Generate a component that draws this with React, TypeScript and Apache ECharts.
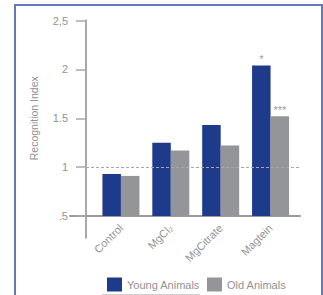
import React, { useEffect, useRef } from "react";
import * as echarts from "echarts";

const categories = ["Control", "MgCl₂", "MgCitrate", "Magtein"];
const youngValues = [0.93, 1.25, 1.43, 2.04];
const oldValues = [0.91, 1.17, 1.22, 1.52];
const youngMarks = ["", "", "", "*"];
const oldMarks = ["", "", "", "***"];
const yTickLabels = [".5", "1", "1.5", "2", "2,5"];
const seriesNames = ["Young Animals", "Old Animals"];

const FONT = "Liberation Sans";
const TXT = "#929292";
const AXIS = "#a8a8a8";

export default function App() {
  const ref = useRef<HTMLDivElement>(null);
  useEffect(() => {
    if (!ref.current) return;
    const chart = echarts.init(ref.current, undefined, { renderer: "svg" });
    const top = 20.5;
    const option: any = {
      animation: false,
      textStyle: { fontFamily: FONT },
      graphic: [
        {
          type: "rect",
          shape: { x: 15, y: 5, width: 307, height: 320 },
          style: { fill: "none", stroke: "#6478bb", lineWidth: 2 },
          silent: true,
        },
        {
          type: "line",
          shape: { x1: 102, y1: 294.5, x2: 200, y2: 294.5 },
          style: { stroke: "#cfcfcf", lineWidth: 1 },
          silent: true,
        },
      ],
      legend: {
        data: seriesNames,
        left: 102,
        top: 272.5,
        itemWidth: 15,
        itemHeight: 14,
        itemGap: 7,
        icon: "rect",
        textStyle: { fontSize: 11, color: TXT, fontFamily: FONT },
      },
      grid: [
        { left: 96, right: 27.5, top, bottom: 79 },
        { left: 86, right: 23, top, bottom: 57.3 },
        { left: 70, right: 23, top, bottom: 79 },
        { left: 86, right: 23, top, bottom: 79 },
      ],
      xAxis: [
        {
          gridIndex: 0,
          type: "category",
          data: categories,
          axisLine: { show: false },
          axisTick: { show: false },
          axisLabel: {
            rotate: 45,
            margin: 10,
            fontSize: 11,
            color: TXT,
            fontFamily: FONT,
          },
        },
        { gridIndex: 1, type: "value", show: false },
        {
          gridIndex: 2,
          type: "value",
          min: 0,
          max: 1,
          axisLine: { show: true, lineStyle: { color: "#9a9a9a", width: 2 } },
          axisTick: { show: false },
          axisLabel: { show: false },
          splitLine: { show: false },
        },
        { gridIndex: 3, type: "value", min: 0, max: 1, show: false },
      ],
      yAxis: [
        {
          gridIndex: 0,
          type: "value",
          min: 0.5,
          max: 2.5,
          interval: 0.5,
          offset: 10,
          name: "Recognition Index",
          nameLocation: "middle",
          nameGap: 47,
          nameTextStyle: { fontSize: 10.5, color: TXT, fontFamily: FONT },
          axisLine: { show: true, lineStyle: { color: AXIS, width: 2 } },
          axisTick: { show: true, length: 10, inside: false, lineStyle: { color: AXIS, width: 1.5 } },
          axisLabel: {
            margin: 18,
            fontSize: 11,
            color: TXT,
            fontFamily: FONT,
            formatter: (_v: number, i: number) => yTickLabels[i],
          },
          splitLine: { show: false },
        },
        {
          gridIndex: 1,
          type: "value",
          axisLine: { show: true, lineStyle: { color: AXIS, width: 2 } },
          axisTick: { show: false },
          axisLabel: { show: false },
          splitLine: { show: false },
        },
        { gridIndex: 2, type: "value", min: 0.5, max: 2.5, show: false },
        { gridIndex: 3, type: "value", min: 0.5, max: 2.5, show: false },
      ],
      series: [
        {
          name: seriesNames[0],
          type: "bar",
          xAxisIndex: 0,
          yAxisIndex: 0,
          barWidth: 18.5,
          barGap: "0%",
          itemStyle: { color: "#1e3a8a" },
          data: youngValues.map((v, i) => ({
            value: v,
            label: {
              show: youngMarks[i] !== "",
              position: "top",
              distance: 1,
              formatter: youngMarks[i],
              fontSize: 11,
              color: "#a0a0a0",
            },
          })),
        },
        {
          name: seriesNames[1],
          type: "bar",
          xAxisIndex: 0,
          yAxisIndex: 0,
          barWidth: 18.5,
          barGap: "0%",
          itemStyle: { color: "#939598" },
          data: oldValues.map((v, i) => ({
            value: v,
            label: {
              show: oldMarks[i] !== "",
              position: "top",
              distance: 1,
              formatter: oldMarks[i],
              fontSize: 11,
              color: "#a0a0a0",
            },
          })),
        },
        {
          type: "line",
          xAxisIndex: 3,
          yAxisIndex: 3,
          data: [],
          silent: true,
          markLine: {
            silent: true,
            symbol: "none",
            label: { show: false },
            lineStyle: { type: [3, 2], color: "#a8a8a8", width: 1 },
            data: [{ yAxis: 1 }],
          },
        },
      ],
    };
    chart.setOption(option);
    return () => chart.dispose();
  }, []);
  return (
    <div
      ref={ref}
      style={{ position: "fixed", left: 0, top: 0, width: 323, height: 295, background: "#fff" }}
    />
  );
}
